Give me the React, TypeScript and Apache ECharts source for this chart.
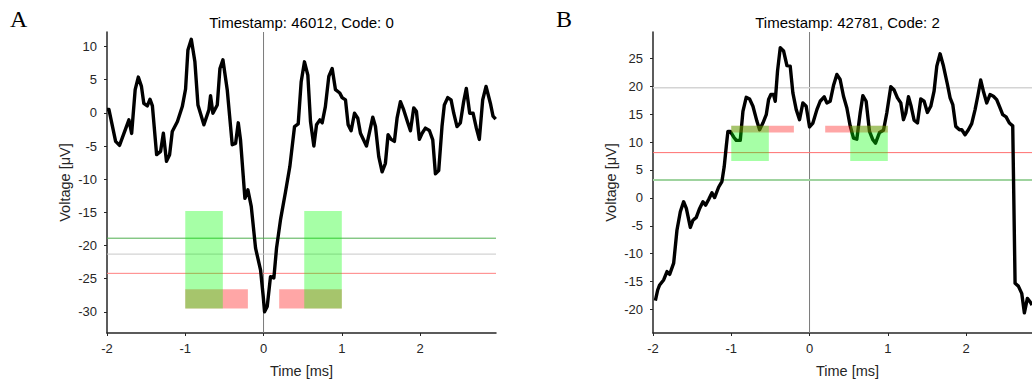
import React, { useEffect, useRef } from "react";
import * as echarts from "echarts";

// Shared tick positions
const timeTicks = [-2, -1, 0, 1, 2];
const voltTicksA = [-30, -25, -20, -15, -10, -5, 0, 5, 10];
const voltTicksB = [-20, -15, -10, -5, 0, 5, 10, 15, 20, 25];

// Axis extents
const timeRange = [-2, 2.97];
const voltRangeA = [-33.2, 12.2];
const voltRangeB = [-24.2, 29.7];

// Panel A waveform: [time (ms), voltage (µV)]
const traceA: [number, number][] = [
  [-2, 0.5], [-1.975, 0.5], [-1.89, -4.3], [-1.84, -4.9], [-1.72, -1.05], [-1.685, -3.1],
  [-1.64, 3.5], [-1.6, 5.4], [-1.56, 4.0], [-1.53, 1.45], [-1.485, 1.05], [-1.45, 2.06],
  [-1.42, 1.05], [-1.366, -6.3], [-1.315, -5.8], [-1.28, -3.07], [-1.24, -7.3], [-1.2, -6.3],
  [-1.166, -2.8], [-1.1, -1.3], [-1.038, 0.95], [-0.996, 3.6], [-0.966, 9.5], [-0.923, 11.1],
  [-0.877, 7.7], [-0.838, 1.2], [-0.762, -1.8], [-0.698, 0.45], [-0.677, 2.6], [-0.647, -0.05],
  [-0.591, 1.2], [-0.557, 6.7], [-0.519, 8.0], [-0.464, 3.5], [-0.4, -4.8], [-0.357, -4.6],
  [-0.323, -1.5], [-0.294, -4.1], [-0.238, -12.9], [-0.2, -11.6], [-0.157, -14.1], [-0.102, -20.4],
  [-0.038, -23.7], [-0.004, -27.7], [0.013, -30.0], [0.047, -29.2], [0.089, -24.7], [0.132, -24.9],
  [0.166, -20.4], [0.217, -16.1], [0.281, -11.9], [0.336, -8.1], [0.396, -2.06], [0.443, -1.66],
  [0.481, 4.7], [0.523, 7.7], [0.566, 5.7], [0.6, -1.3], [0.643, -5.0], [0.677, -1.8],
  [0.72, -1.05], [0.749, -1.5], [0.79, 0.95], [0.834, 5.5], [0.877, 6.7], [0.919, 3.5],
  [0.974, 3.0], [1.004, 2.3], [1.047, 1.96], [1.081, -1.8], [1.119, -2.7], [1.162, -0.05],
  [1.204, -0.8], [1.238, -3.07], [1.315, -5.0], [1.396, -0.65], [1.43, -2.06], [1.472, -6.6],
  [1.515, -8.9], [1.557, -7.6], [1.591, -3.3], [1.63, -4.0], [1.672, -4.3], [1.706, -0.8],
  [1.749, 1.7], [1.791, 0.45], [1.843, -1.5], [1.877, -2.7], [1.919, 0.75], [1.953, 0.25],
  [1.991, -4.0], [2.026, -3.07], [2.068, -2.3], [2.119, -2.66], [2.162, -4.07], [2.196, -9.2],
  [2.238, -8.7], [2.28, -2.06], [2.31, 1.2], [2.353, 2.3], [2.396, 1.96], [2.43, -0.05],
  [2.472, -2.06], [2.515, -1.5], [2.557, 1.7], [2.591, 3.7], [2.634, -0.05], [2.677, -0.05],
  [2.719, -2.3], [2.757, -4.0], [2.8, 1.96], [2.843, 4.0], [2.898, 1.46], [2.932, -0.5],
  [2.966, -0.95],
];

// Panel B waveform: [time (ms), voltage (µV)]
const traceB: [number, number][] = [
  [-1.97, -18.4], [-1.94, -16.5], [-1.915, -15.6], [-1.864, -14.7], [-1.821, -13.2], [-1.787, -13.7],
  [-1.736, -11.7], [-1.694, -5.8], [-1.651, -2.5], [-1.609, -0.7], [-1.574, -1.9], [-1.523, -5.3],
  [-1.489, -4.0], [-1.447, -3.5], [-1.404, -1.9], [-1.362, -0.7], [-1.328, -1.3], [-1.289, -0.3],
  [-1.247, 0.9], [-1.213, 0.05], [-1.162, 1.9], [-1.12, 2.9], [-1.09, 5.6], [-1.064, 9.2],
  [-1.043, 11.9], [-1.013, 11.9], [-0.97, 10.9], [-0.936, 10.3], [-0.885, 10.3], [-0.851, 15.5],
  [-0.809, 18.0], [-0.766, 17.7], [-0.723, 16.4], [-0.672, 13.7], [-0.638, 12.2], [-0.596, 13.4],
  [-0.553, 14.9], [-0.523, 17.6], [-0.494, 18.5], [-0.46, 18.5], [-0.438, 17.3], [-0.409, 22.7],
  [-0.374, 26.9], [-0.332, 26.3], [-0.289, 23.7], [-0.247, 23.6], [-0.213, 18.8], [-0.17, 15.8],
  [-0.128, 14.0], [-0.085, 17.0], [-0.043, 16.4], [0.0, 12.7], [0.043, 13.4], [0.094, 15.8],
  [0.136, 17.3], [0.187, 18.1], [0.221, 17.0], [0.264, 17.3], [0.306, 20.1], [0.349, 22.1],
  [0.391, 21.2], [0.434, 18.2], [0.477, 16.1], [0.519, 12.9], [0.562, 10.7], [0.604, 10.5],
  [0.647, 15.2], [0.681, 18.3], [0.723, 17.3], [0.766, 11.9], [0.809, 10.4], [0.843, 9.8],
  [0.894, 11.7], [0.945, 12.1], [0.987, 15.2], [1.038, 19.9], [1.081, 19.3], [1.123, 17.9],
  [1.166, 17.0], [1.2, 14.0], [1.23, 15.2], [1.264, 18.1], [1.298, 16.4], [1.336, 13.9],
  [1.379, 13.4], [1.421, 17.7], [1.464, 17.3], [1.506, 15.3], [1.549, 16.4], [1.591, 19.1],
  [1.626, 23.6], [1.668, 25.8], [1.711, 23.6], [1.762, 20.3], [1.796, 17.9], [1.83, 16.7],
  [1.868, 12.8], [1.915, 12.2], [1.945, 12.2], [1.987, 11.3], [2.03, 12.2], [2.072, 13.3],
  [2.115, 15.8], [2.149, 18.2], [2.187, 21.1], [2.221, 19.1], [2.264, 17.0], [2.306, 18.5],
  [2.349, 18.2], [2.391, 17.6], [2.434, 16.1], [2.468, 14.9], [2.511, 14.5], [2.553, 13.4],
  [2.596, 12.9], [2.626, -15.3], [2.668, -15.8], [2.711, -17.1], [2.745, -20.6], [2.783, -18.0],
  [2.817, -18.6], [2.843, -19.2],
];

// Threshold levels: green, gray, red
const levelsA = [-18.9, -21.3, -24.2];
const levelsB = [3.2, 19.7, 8.1];

// Detection windows: [t0, t1, v0, v1, kind] (kind 0 = red, 1 = green)
const windowsA = [
  [-1, -0.2, -29.5, -26.6, 0],
  [0.2, 1, -29.5, -26.6, 0],
  [-1, -0.52, -29.5, -14.8, 1],
  [0.52, 1, -29.5, -14.8, 1],
];
const windowsB = [
  [-1, -0.2, 11.7, 12.9, 0],
  [0.2, 1, 11.7, 12.9, 0],
  [-1, -0.52, 6.6, 12.9, 1],
  [0.52, 1, 6.6, 12.9, 1],
];

const titles = ["Timestamp: 46012, Code: 0", "Timestamp: 42781, Code: 2"];
const panelLetters = ["A", "B"];

const SANS = '"Liberation Sans", Arial, Helvetica, sans-serif';
const SERIF = '"Liberation Serif", "Times New Roman", serif';
const AXIS_COLOR = "#262626";

// The right panel runs past the visible page edge, so the canvas is wider than the viewport.
const CANVAS_W = 1060;
const CANVAS_H = 383;

const gridBoxes = [
  { left: 107, top: 32, width: 389, height: 301 },
  { left: 653, top: 32, width: 389, height: 301 },
];

const levelStyles = [
  [
    { color: "#4fae4f", width: 1 },
    { color: "#c8c8c8", width: 1 },
    { color: "#ff8080", width: 1 },
  ],
  [
    { color: "#9fd39f", width: 2 },
    { color: "#d4d4d4", width: 1.5 },
    { color: "#ff7070", width: 1 },
  ],
];

function renderWindow(params: any, api: any) {
  const p0 = api.coord([api.value(0), api.value(3)]);
  const p1 = api.coord([api.value(1), api.value(2)]);
  const kind = api.value(4);
  return {
    type: "rect",
    shape: { x: p0[0], y: p0[1], width: p1[0] - p0[0], height: p1[1] - p0[1] },
    style: { fill: kind === 1 ? "rgba(0,255,0,0.35)" : "rgba(255,0,0,0.35)" },
  };
}

function buildOption() {
  const traces = [traceA, traceB];
  const levels = [levelsA, levelsB];
  const windows = [windowsA, windowsB];
  const voltRanges = [voltRangeA, voltRangeB];
  const voltTicks = [voltTicksA, voltTicksB];

  const axisLine = { show: true, onZero: false, lineStyle: { color: AXIS_COLOR, width: 1.5 } };

  const xAxis = [0, 1].map((i) => ({
    type: "value",
    gridIndex: i,
    min: timeRange[0],
    max: timeRange[1],
    axisLine,
    axisTick: { show: true, length: 3, customValues: timeTicks, lineStyle: { color: AXIS_COLOR, width: 1 } },
    axisLabel: { customValues: timeTicks, color: AXIS_COLOR, fontSize: 13, fontFamily: SANS, margin: 9 },
    splitLine: { show: false },
    name: "Time [ms]",
    nameLocation: "middle",
    nameGap: 30,
    nameTextStyle: { color: AXIS_COLOR, fontSize: 14.5, fontFamily: SANS },
  }));

  const yAxis = [0, 1].map((i) => ({
    type: "value",
    gridIndex: i,
    min: voltRanges[i][0],
    max: voltRanges[i][1],
    axisLine,
    axisTick: { show: true, length: 3, customValues: voltTicks[i], lineStyle: { color: AXIS_COLOR, width: 1 } },
    axisLabel: { customValues: voltTicks[i], color: AXIS_COLOR, fontSize: 13, fontFamily: SANS, margin: 10 },
    splitLine: { show: false },
    name: "Voltage [μV]",
    nameLocation: "middle",
    nameGap: 35,
    nameTextStyle: { color: AXIS_COLOR, fontSize: 14.5, fontFamily: SANS },
  }));

  const series: any[] = [];
  [0, 1].forEach((i) => {
    // zero-time marker
    series.push({
      type: "line",
      xAxisIndex: i,
      yAxisIndex: i,
      data: [[0, voltRanges[i][0]], [0, voltRanges[i][1]]],
      symbol: "none",
      silent: true,
      z: 1,
      lineStyle: { color: "#7a7a7a", width: 1 },
    });
    // threshold levels
    levels[i].forEach((v, k) => {
      series.push({
        type: "line",
        xAxisIndex: i,
        yAxisIndex: i,
        data: [[timeRange[0], v], [timeRange[1], v]],
        symbol: "none",
        silent: true,
        z: 1,
        lineStyle: levelStyles[i][k],
      });
    });
    // waveform
    series.push({
      type: "line",
      xAxisIndex: i,
      yAxisIndex: i,
      data: traces[i],
      symbol: "none",
      showSymbol: false,
      silent: true,
      clip: true,
      z: 2,
      lineStyle: { color: "#000", width: 3.4, join: "round" },
    });
    // detection windows
    series.push({
      type: "custom",
      xAxisIndex: i,
      yAxisIndex: i,
      coordinateSystem: "cartesian2d",
      data: windows[i],
      encode: { x: [0, 1], y: [2, 3] },
      renderItem: renderWindow,
      silent: true,
      z: 3,
    });
  });

  const graphic: any[] = [];
  [0, 1].forEach((i) => {
    const g = gridBoxes[i];
    graphic.push({
      type: "text",
      x: g.left + g.width / 2,
      y: 22,
      style: {
        text: titles[i],
        font: `15px ${SANS}`,
        fill: "#000",
        align: "center",
        verticalAlign: "middle",
        textAlign: "center",
        textVerticalAlign: "middle",
      },
    });
    graphic.push({
      type: "text",
      x: i === 0 ? 10 : 556,
      y: 31,
      style: {
        text: panelLetters[i],
        font: `24px ${SERIF}`,
        fill: "#000",
        align: "left",
        verticalAlign: "bottom",
        textAlign: "left",
        textVerticalAlign: "bottom",
      },
    });
  });

  return {
    animation: false,
    backgroundColor: "#fff",
    grid: gridBoxes.map((g) => ({ ...g, containLabel: false })),
    xAxis,
    yAxis,
    series,
    graphic,
  };
}

export default function App() {
  const ref = useRef<HTMLDivElement>(null);
  useEffect(() => {
    if (!ref.current) return;
    const chart = echarts.init(ref.current, undefined, { renderer: "svg" });
    chart.setOption(buildOption() as any);
    return () => chart.dispose();
  }, []);
  return (
    <div
      style={{ position: "fixed", left: 0, top: 0, width: 1032, height: 383, overflow: "hidden", background: "#fff" }}
    >
      <div ref={ref} style={{ width: CANVAS_W, height: CANVAS_H }} />
    </div>
  );
}
